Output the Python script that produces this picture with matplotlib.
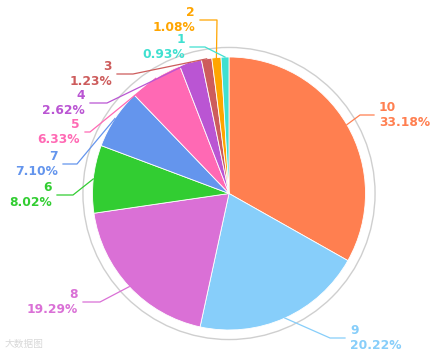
import numpy as np
import matplotlib.pyplot as plt
from matplotlib.patches import Circle

names = ['10', '9', '8', '6', '7', '5', '4', '3', '2', '1']
shares = [33.18, 20.22, 19.29, 8.02, 7.10, 6.33, 2.62, 1.23, 1.08, 0.93]
colors = ['#ff7f50', '#87cefa', '#da70d6', '#32cd32', '#6495ed',
          '#ff69b4', '#ba55d3', '#cd5c5c', '#ffa500', '#40e0d0']

# leader line layout in pixels: elbow point and end of the horizontal stub
elbows = [(360, 115), (330, 338), (100, 302), (73, 195), (77, 164),
          (90, 132), (107, 103), (133, 74), (217, 20), (205, 47)]
stub_ends = [374, 345, 83, 57, 63, 85, 90, 117, 200, 190]

W, H = 436, 355
CX, CY, R = 229, 193.5, 136.5


def to_data(px, py):
    return (px - CX) / R, (CY - py) / R


fig = plt.figure(figsize=(W / 100, H / 100), dpi=100)
ax = fig.add_axes([0, 0, 1, 1])

wedges, _ = ax.pie(shares, colors=colors, startangle=90, counterclock=False,
                   radius=1, center=(0, 0),
                   wedgeprops=dict(edgecolor='white', linewidth=0.6))
ax.set_xlim(-CX / R, (W - CX) / R)
ax.set_ylim(-(H - CY) / R, CY / R)
ax.set_aspect('equal')
ax.axis('off')

ax.add_patch(Circle((0, 0), 1.07, fill=False, edgecolor='#cfcfcf', lw=1.0, zorder=0))

for wedge, name, share, color, elbow, end_x in zip(wedges, names, shares, colors, elbows, stub_ends):
    mid = np.deg2rad((wedge.theta1 + wedge.theta2) / 2)
    x0, y0 = np.cos(mid), np.sin(mid)
    x1, y1 = to_data(*elbow)
    x2, y2 = to_data(end_x, elbow[1])
    ax.plot([x0, x1, x2], [y0, y1, y2], color=color, lw=0.9, zorder=3)
    right = end_x > elbow[0]
    tx, ty = to_data(end_x + (5 if right else -5), elbow[1])
    ax.text(tx, ty, f"{name}\n{share:.2f}%", color=color, fontsize=8.8,
            fontweight='bold', ha='left' if right else 'right', va='center',
            multialignment='left' if right else 'right', linespacing=1.15)

wx, wy = to_data(5, 344)
ax.text(wx, wy, "大数据图", color='#d8d8d8', fontsize=7, ha='left', va='center',
        family=['Noto Sans CJK SC', 'DejaVu Sans'])

fig.savefig('out.png', dpi=100)
